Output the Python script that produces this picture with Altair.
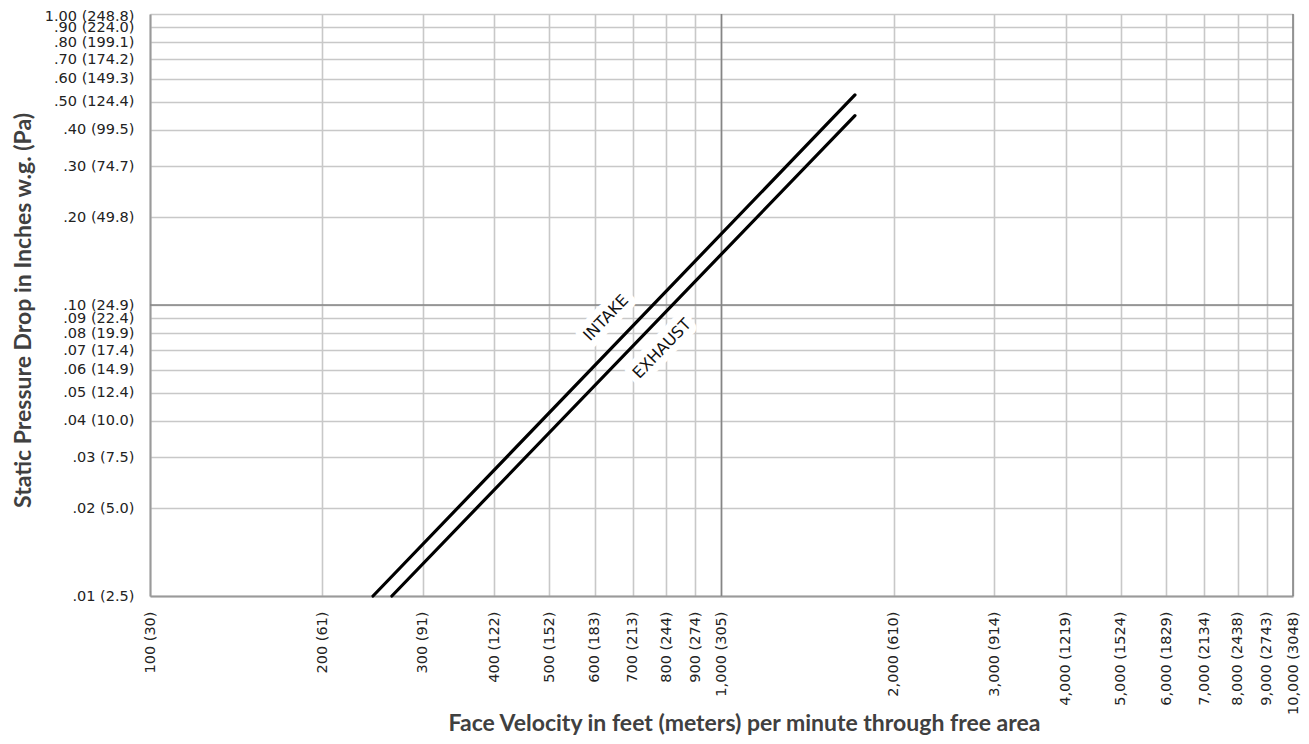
import altair as alt
import pandas as pd

# --- data ---
x_ticks = [100, 200, 300, 400, 500, 600, 700, 800, 900, 1000,
           2000, 3000, 4000, 5000, 6000, 7000, 8000, 9000, 10000]
x_labels = ["100 (30)", "200 (61)", "300 (91)", "400 (122)", "500 (152)", "600 (183)",
            "700 (213)", "800 (244)", "900 (274)", "1,000 (305)", "2,000 (610)",
            "3,000 (914)", "4,000 (1219)", "5,000 (1524)", "6,000 (1829)",
            "7,000 (2134)", "8,000 (2438)", "9,000 (2743)", "10,000 (3048)"]
y_ticks = [0.01, 0.02, 0.03, 0.04, 0.05, 0.06, 0.07, 0.08, 0.09, 0.1,
           0.2, 0.3, 0.4, 0.5, 0.6, 0.7, 0.8, 0.9, 1.0]
y_labels = [".01 (2.5)", ".02 (5.0)", ".03 (7.5)", ".04 (10.0)", ".05 (12.4)",
            ".06 (14.9)", ".07 (17.4)", ".08 (19.9)", ".09 (22.4)", ".10 (24.9)",
            ".20 (49.8)", ".30 (74.7)", ".40 (99.5)", ".50 (124.4)", ".60 (149.3)",
            ".70 (174.2)", ".80 (199.1)", ".90 (224.0)", "1.00 (248.8)"]

series = ["INTAKE", "INTAKE", "EXHAUST", "EXHAUST"]
velocity = [245.6, 1712, 265, 1712]
pressure = [0.01, 0.527, 0.01, 0.4475]

label_names = ["INTAKE", "EXHAUST"]
label_x = [628, 787]
label_y = [0.0903, 0.0707]

dark_x = [1000, 10000]
dark_y = [0.1]

lines_df = pd.DataFrame({"series": series, "v": velocity, "p": pressure})
labels_df = pd.DataFrame({"name": label_names, "v": label_x, "p": label_y})
dx_df = pd.DataFrame({"v": dark_x})
dy_df = pd.DataFrame({"p": dark_y})

xscale = alt.Scale(type="log", domain=[100, 10000], nice=False)
yscale = alt.Scale(type="log", domain=[0.01, 1.0], nice=False)


def arr(vals):
    return "[" + ",".join(repr(v) for v in vals) + "]"


def sarr(vals):
    return "[" + ",".join("'" + v + "'" for v in vals) + "]"


x_expr = f"{sarr(x_labels)}[indexof({arr(x_ticks)}, datum.value)]"
y_expr = f"{sarr(y_labels)}[indexof({arr(y_ticks)}, datum.value)]"

x_axis = alt.Axis(values=x_ticks, labelExpr=x_expr, labelAngle=270, labelPadding=15,
                  labelFont="DejaVu Sans", labelFontSize=14.5, labelColor="#222222",
                  labelOverlap=False, labelFlush=False, ticks=False,
                  grid=True, gridColor="#c8c8c8", gridWidth=1.6,
                  domainColor="#9a9a9a", domainWidth=2,
                  title="Face Velocity in feet (meters) per minute through free area",
                  titleFont="Lato", titleFontSize=23, titleFontWeight="bold",
                  titleColor="#404040", titleX=594, titleY=127,
                  titleAlign="center", titleBaseline="middle")
y_axis = alt.Axis(values=y_ticks, labelExpr=y_expr, labelPadding=16,
                  labelOffset={"condition": {"test": "datum.value == 1", "value": 2},
                               "value": 0},
                  labelFont="DejaVu Sans", labelFontSize=14.5, labelColor="#222222",
                  labelOverlap=False, labelFlush=False, ticks=False,
                  grid=True, gridColor="#c8c8c8", gridWidth=1.6,
                  domainColor="#9a9a9a", domainWidth=2,
                  title="Static Pressure Drop in Inches w.g. (Pa)",
                  titleFont="Lato", titleFontSize=23, titleFontWeight="bold",
                  titleColor="#404040", titleX=-127, titleY=296,
                  titleAngle=270, titleAlign="center", titleBaseline="middle")

base = alt.Chart(lines_df).mark_line(color="black", strokeWidth=3.2, strokeCap="round").encode(
    x=alt.X("v:Q", scale=xscale, axis=x_axis),
    y=alt.Y("p:Q", scale=yscale, axis=y_axis),
    detail="series:N",
)

vrules = alt.Chart(dx_df).mark_rule(color="#858585", strokeWidth=1.6).encode(
    x=alt.X("v:Q", scale=xscale)
)
hrules = alt.Chart(dy_df).mark_rule(color="#858585", strokeWidth=1.6).encode(
    y=alt.Y("p:Q", scale=yscale)
)

label_bg = alt.Chart(labels_df).mark_text(
    angle=314, font="DejaVu Sans", fontSize=16, stroke="white", strokeWidth=14,
    fill="white", strokeJoin="round"
).encode(
    x=alt.X("v:Q", scale=xscale), y=alt.Y("p:Q", scale=yscale), text="name:N"
)
label_fg = alt.Chart(labels_df).mark_text(
    angle=314, font="DejaVu Sans", fontSize=16, color="#111111"
).encode(
    x=alt.X("v:Q", scale=xscale), y=alt.Y("p:Q", scale=yscale), text="name:N"
)

chart = alt.layer(vrules, hrules, label_bg, base, label_fg).properties(
    width=1143, height=582,
    autosize=alt.AutoSizeParams(type="none"),
    padding={"left": 142, "top": 6, "right": 8, "bottom": 140},
).configure_view(stroke=None)

chart.save("out.html", embed_options={"renderer": "svg", "actions": False})
